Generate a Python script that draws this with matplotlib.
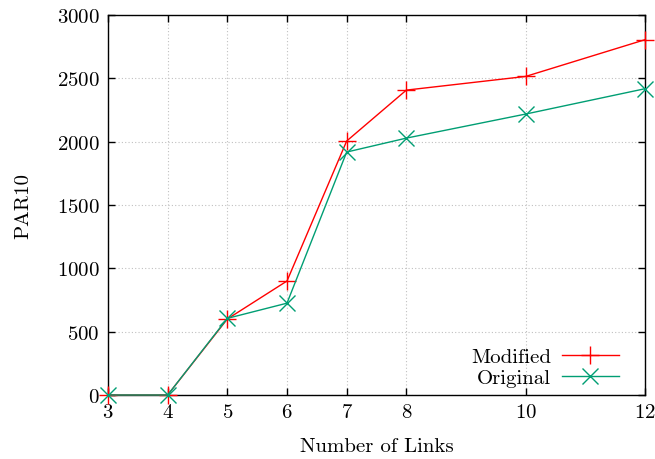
import matplotlib
matplotlib.use("Agg")
import matplotlib.pyplot as plt

plt.rcParams['font.family'] = 'cmr10'
plt.rcParams['axes.formatter.use_mathtext'] = True
plt.rcParams['font.size'] = 15

links = [3, 4, 5, 6, 7, 8, 10, 12]
modified = [0, 0, 600, 900, 2005, 2407, 2515, 2805]
original = [0, 0, 605, 725, 1918, 2028, 2218, 2418]

fig = plt.figure(figsize=(6.55, 4.6), dpi=100)
ax = fig.add_axes([108 / 655, 64 / 460, 537 / 655, 380 / 460])

ax.plot(links, modified, color='#ff0000', lw=1, marker='+', ms=13, mew=1,
        label='Modified', clip_on=False, zorder=3)
ax.plot(links, original, color='#009e73', lw=1, marker='x', ms=11, mew=1,
        label='Original', clip_on=False, zorder=3)

ax.set_xlim(3, 12)
ax.set_ylim(0, 3000)
ax.set_xticks(links)
ax.set_yticks(range(0, 3001, 500))
ax.grid(True, color='#c0c0c0', linestyle=(0, (1, 2)), lw=0.8)
ax.tick_params(direction='in', top=True, right=True, length=5, width=1, pad=6)
for s in ax.spines.values():
    s.set_linewidth(1)

ax.set_xlabel('Number of Links', labelpad=11)
ax.set_ylabel('PAR10', labelpad=18)

ax.legend(loc='lower right', bbox_to_anchor=(0.975, -0.012), frameon=False,
          markerfirst=False, handlelength=2.75, borderaxespad=0.2,
          labelspacing=0.1, handletextpad=0.5)

fig.savefig('out.png', dpi=100)
